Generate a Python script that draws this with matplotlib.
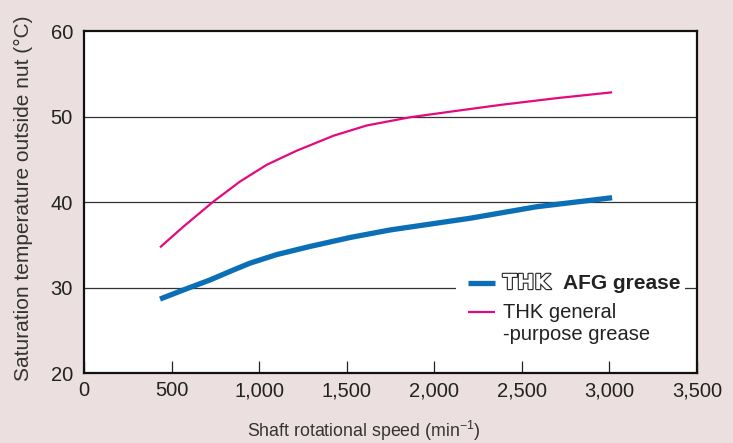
"""
Saturation temperature outside nut vs shaft rotational speed
(THK AFG grease vs THK general-purpose grease).
"""

import matplotlib
matplotlib.use("Agg")
import matplotlib.pyplot as plt
import matplotlib.patheffects as pe
from matplotlib.patches import Rectangle

# ---------------------------------------------------------------------------
# Data
# ---------------------------------------------------------------------------
speed_afg = [434, 567, 719, 853, 948, 1100, 1290, 1519, 1747, 2204, 2585, 3015]
temp_afg  = [28.65, 29.71, 30.88, 32.05, 32.85, 33.85, 34.8, 35.85, 36.73,
             38.1, 39.45, 40.5]

speed_gen = [434, 567, 738, 891, 1043, 1214, 1424, 1614, 1861, 2090, 2375,
             2700, 3015]
temp_gen  = [34.7, 37.11, 40.04, 42.4, 44.35, 46.0, 47.75, 48.95, 49.91,
             50.56, 51.35, 52.15, 52.83]

x_ticks = [0, 500, 1000, 1500, 2000, 2500, 3000, 3500]
x_labels = ["0", "500", "1,000", "1,500", "2,000", "2,500", "3,000", "3,500"]
y_ticks = [20, 30, 40, 50, 60]

BG     = "#ebdfdf"
BLUE   = "#0a6fb6"
PINK   = "#e5097f"
TXT    = "#222222"

plt.rcParams["font.family"] = ["Liberation Sans", "DejaVu Sans"]

fig = plt.figure(figsize=(7.33, 4.43), dpi=100, facecolor=BG)
ax = fig.add_axes([0.1146, 0.158, 0.8364, 0.772])
ax.set_facecolor("white")

ax.plot(speed_gen, temp_gen, color=PINK, lw=1.6, solid_capstyle="butt", zorder=4)
ax.plot(speed_afg, temp_afg, color=BLUE, lw=3.8, solid_capstyle="butt", zorder=4)

ax.set_xlim(0, 3500)
ax.set_ylim(20, 60)
ax.set_xticks(x_ticks)
ax.set_xticklabels(x_labels)
ax.set_yticks(y_ticks)

for y in y_ticks[1:-1]:
    ax.axhline(y, color="#333333", lw=0.9, zorder=1)

for s in ax.spines.values():
    s.set_linewidth(1.6)
    s.set_color("#111111")

ax.tick_params(axis="x", direction="in", length=8.5, width=0.9, pad=6,
               labelsize=14.5, colors=TXT)
ax.tick_params(axis="y", length=0, pad=8, labelsize=14.5, colors=TXT)

ax.set_xlabel(r"Shaft rotational speed (min$^{\mathregular{-1}}$)",
              fontsize=12.8, color="#333333")
ax.xaxis.set_label_coords(0.457, -0.135)
ax.set_ylabel("Saturation temperature outside nut (°C)",
              fontsize=15, color="#333333")
ax.yaxis.set_label_coords(-0.083, 0.51)

# ---- legend (hand-built, white box hiding the gridline) ----
ax.add_patch(Rectangle((0.606, 0.08), 0.374, 0.22, transform=ax.transAxes,
                       facecolor="white", edgecolor="none", zorder=2))
ax.plot([0.626, 0.670], [0.263, 0.263], transform=ax.transAxes,
        color=BLUE, lw=3.8, solid_capstyle="butt", zorder=5)
ax.plot([0.626, 0.670], [0.177, 0.177], transform=ax.transAxes,
        color=PINK, lw=1.6, solid_capstyle="butt", zorder=5)
ax.text(0.683, 0.263, "THK", transform=ax.transAxes, fontsize=15,
        family="DejaVu Sans", fontweight="bold", color="white",
        va="center", ha="left", zorder=5,
        path_effects=[pe.withStroke(linewidth=1.6, foreground=TXT)])
ax.text(0.781, 0.263, "AFG grease", transform=ax.transAxes, fontsize=15,
        fontweight="bold", color=TXT, va="center", ha="left", zorder=5)
ax.text(0.683, 0.205, "THK general\n-purpose grease", transform=ax.transAxes,
        fontsize=14.5, color=TXT, va="top", ha="left", zorder=5,
        linespacing=1.2)

fig.savefig("out.png", dpi=100, facecolor=BG)
